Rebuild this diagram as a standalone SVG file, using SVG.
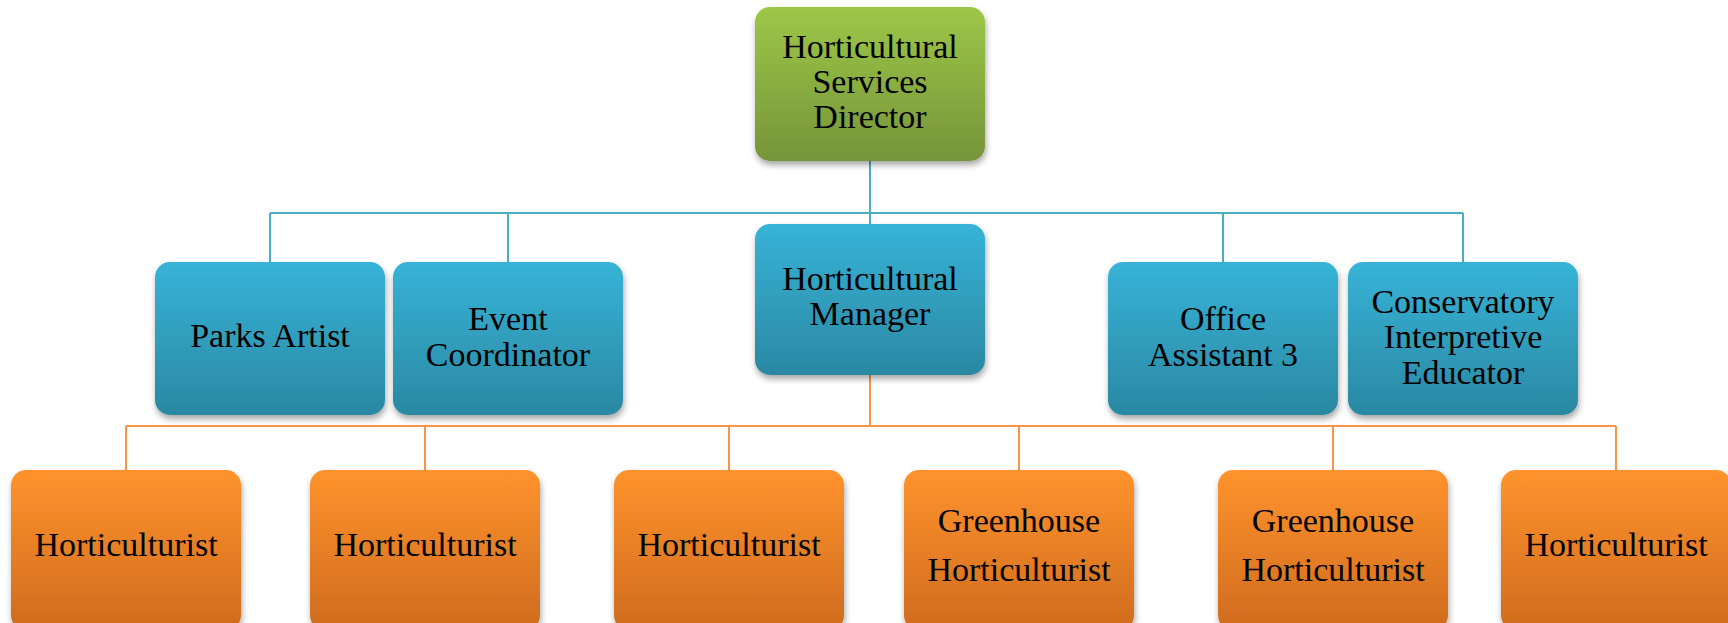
<svg xmlns="http://www.w3.org/2000/svg" width="1728" height="623" viewBox="0 0 1728 623">
  <defs>
    <linearGradient id="gGreen" x1="0" y1="0" x2="0" y2="1">
      <stop offset="0" stop-color="#9dc747"/>
      <stop offset="1" stop-color="#76943a"/>
    </linearGradient>
    <linearGradient id="gBlue" x1="0" y1="0" x2="0" y2="1">
      <stop offset="0" stop-color="#37b3d7"/>
      <stop offset="1" stop-color="#2a88a2"/>
    </linearGradient>
    <linearGradient id="gOrange" x1="0" y1="0" x2="0" y2="1">
      <stop offset="0" stop-color="#ff932d"/>
      <stop offset="1" stop-color="#cf6b1e"/>
    </linearGradient>
    <filter id="sh" x="-10%" y="-10%" width="125%" height="130%">
      <feDropShadow dx="1" dy="4" stdDeviation="3" flood-color="#000" flood-opacity="0.35"/>
    </filter>
  </defs>
  <style>
    .box { filter: url(#sh); }
    .green { fill: url(#gGreen); }
    .blue { fill: url(#gBlue); }
    .orange { fill: url(#gOrange); }
    .lbl { font-family: "Liberation Serif", "Times New Roman", serif; font-size: 34px; fill: #000; text-anchor: middle; }
    .cb { stroke: #4bacc6; stroke-width: 2; fill: none; }
    .co { stroke: #f79646; stroke-width: 2; fill: none; }
  </style>
  <rect width="1728" height="623" fill="#ffffff"/>

  <g id="connectors">
    <path class="cb" d="M870 161 V213 M270 213 H1463 M270 213 V262 M508 213 V262 M870 213 V224 M1223 213 V262 M1463 213 V262"/>
    <path class="co" d="M870 375 V426 M126 426 H1616 M126 426 V470 M425 426 V470 M729 426 V470 M1019 426 V470 M1333 426 V470 M1616 426 V470"/>
  </g>

  <g id="n-director">
    <rect class="box green" x="755" y="7" width="230" height="154" rx="15"/>
    <text class="lbl" x="870" y="58">Horticultural</text>
    <text class="lbl" x="870" y="93">Services</text>
    <text class="lbl" x="870" y="128">Director</text>
  </g>

  <g id="n-parks-artist">
    <rect class="box blue" x="155" y="262" width="230" height="153" rx="15"/>
    <text class="lbl" x="270" y="347">Parks Artist</text>
  </g>
  <g id="n-event-coordinator">
    <rect class="box blue" x="393" y="262" width="230" height="153" rx="15"/>
    <text class="lbl" x="508" y="330">Event</text>
    <text class="lbl" x="508" y="366">Coordinator</text>
  </g>
  <g id="n-manager">
    <rect class="box blue" x="755" y="224" width="230" height="151" rx="15"/>
    <text class="lbl" x="870" y="290">Horticultural</text>
    <text class="lbl" x="870" y="325">Manager</text>
  </g>
  <g id="n-office-assistant">
    <rect class="box blue" x="1108" y="262" width="230" height="153" rx="15"/>
    <text class="lbl" x="1223" y="330">Office</text>
    <text class="lbl" x="1223" y="366">Assistant 3</text>
  </g>
  <g id="n-conservatory">
    <rect class="box blue" x="1348" y="262" width="230" height="153" rx="15"/>
    <text class="lbl" x="1463" y="313">Conservatory</text>
    <text class="lbl" x="1463" y="348">Interpretive</text>
    <text class="lbl" x="1463" y="384">Educator</text>
  </g>

  <g id="n-horticulturist-1">
    <rect class="box orange" x="11" y="470" width="230" height="160" rx="15"/>
    <text class="lbl" x="126" y="556">Horticulturist</text>
  </g>
  <g id="n-horticulturist-2">
    <rect class="box orange" x="310" y="470" width="230" height="160" rx="15"/>
    <text class="lbl" x="425" y="556">Horticulturist</text>
  </g>
  <g id="n-horticulturist-3">
    <rect class="box orange" x="614" y="470" width="230" height="160" rx="15"/>
    <text class="lbl" x="729" y="556">Horticulturist</text>
  </g>
  <g id="n-greenhouse-1">
    <rect class="box orange" x="904" y="470" width="230" height="160" rx="15"/>
    <text class="lbl" x="1019" y="532">Greenhouse</text>
    <text class="lbl" x="1019" y="581">Horticulturist</text>
  </g>
  <g id="n-greenhouse-2">
    <rect class="box orange" x="1218" y="470" width="230" height="160" rx="15"/>
    <text class="lbl" x="1333" y="532">Greenhouse</text>
    <text class="lbl" x="1333" y="581">Horticulturist</text>
  </g>
  <g id="n-horticulturist-4">
    <rect class="box orange" x="1501" y="470" width="230" height="160" rx="15"/>
    <text class="lbl" x="1616" y="556">Horticulturist</text>
  </g>
</svg>
